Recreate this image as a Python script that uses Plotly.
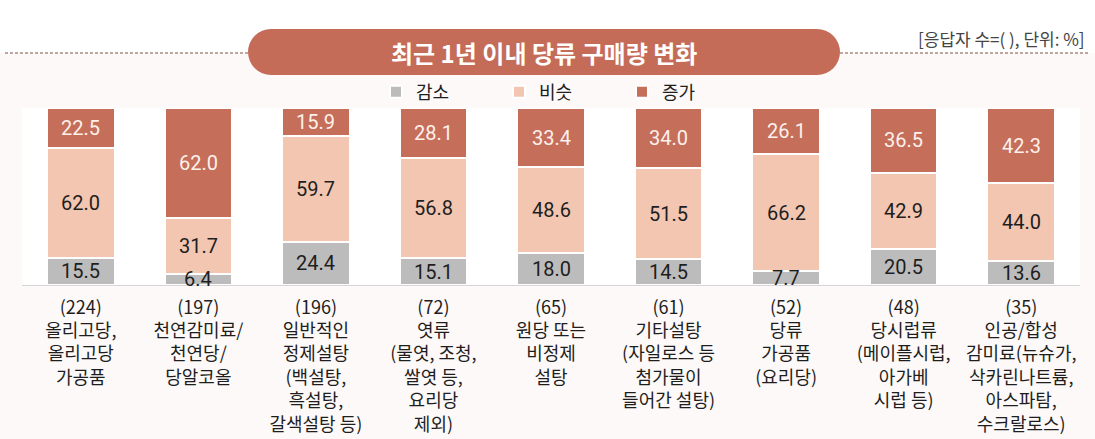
import plotly.graph_objects as go

categories = [
    "(224)<br>올리고당,<br>올리고당<br>가공품",
    "(197)<br>천연감미료/<br>천연당/<br>당알코올",
    "(196)<br>일반적인<br>정제설탕<br>(백설탕,<br>흑설탕,<br>갈색설탕 등)",
    "(72)<br>엿류<br>(물엿, 조청,<br>쌀엿 등,<br>요리당<br>제외)",
    "(65)<br>원당 또는<br>비정제<br>설탕",
    "(61)<br>기타설탕<br>(자일로스 등<br>첨가물이<br>들어간 설탕)",
    "(52)<br>당류<br>가공품<br>(요리당)",
    "(48)<br>당시럽류<br>(메이플시럽,<br>아가베<br>시럽 등)",
    "(35)<br>인공/합성<br>감미료(뉴슈가,<br>삭카린나트륨,<br>아스파탐,<br>수크랄로스)",
]
decrease = [15.5, 6.4, 24.4, 15.1, 18.0, 14.5, 7.7, 20.5, 13.6]
similar = [62.0, 31.7, 59.7, 56.8, 48.6, 51.5, 66.2, 42.9, 44.0]
increase = [22.5, 62.0, 15.9, 28.1, 33.4, 34.0, 26.1, 36.5, 42.3]
series_names = ["감소", "비슷", "증가"]
title_text = "최근 1년 이내 당류 구매량 변화"
note_text = "[응답자 수=( ), 단위: %]"

C_DEC = "#bdbcbc"
C_SIM = "#f2c6b1"
C_INC = "#c56e5a"
PILL = "#c46c58"
KFONT = "Noto Sans CJK KR"
NFONT = "Roboto"

W, H = 1095, 439
ML, MR, MT, MB = 22, 15, 108, 154
PW = W - ML - MR
PH = H - MT - MB


def px(x):
    return (x - ML) / PW


def py(y):
    return (H - MB - y) / PH


fig = go.Figure()
series = [
    (series_names[0], decrease, C_DEC, "#1e1e1e"),
    (series_names[1], similar, C_SIM, "#1e1e1e"),
    (series_names[2], increase, C_INC, "#fdf1ec"),
]
annotations = []
base = [0.0] * len(categories)
for name, vals, col, tcol in series:
    fig.add_trace(go.Bar(
        x=categories, y=vals, name=name,
        marker=dict(color=col, line=dict(color="white", width=2)),
        hoverinfo="skip",
    ))
    for i, v in enumerate(vals):
        annotations.append(dict(
            x=categories[i], y=base[i] + v / 2, xref="x", yref="y",
            text=f"{v:.1f}", showarrow=False, xanchor="center", yanchor="middle",
            font=dict(family=NFONT, size=20, color=tcol),
        ))
        base[i] += v

shapes = []
# white band above dashed line
shapes.append(dict(type="rect", xref="paper", yref="paper", x0=px(0), x1=px(W), y0=py(0), y1=py(53),
                   fillcolor="white", line=dict(width=0), layer="below"))
# dashed lines
shapes.append(dict(type="line", xref="paper", yref="paper", x0=px(5), x1=px(260), y0=py(53), y1=py(53),
                   line=dict(color="#a98a80", width=1.5, dash="3px,2px")))
shapes.append(dict(type="line", xref="paper", yref="paper", x0=px(820), x1=px(1088), y0=py(53), y1=py(53),
                   line=dict(color="#a98a80", width=1.5, dash="3px,2px")))
# pill
r = 23
x_l, x_r, y_t, y_b = 248, 840, 29, 75
shapes.append(dict(type="rect", xref="paper", yref="paper", x0=px(x_l + r), x1=px(x_r - r), y0=py(y_b), y1=py(y_t),
                   fillcolor=PILL, line=dict(width=0)))
shapes.append(dict(type="circle", xref="paper", yref="paper", x0=px(x_l), x1=px(x_l + 2 * r), y0=py(y_b), y1=py(y_t),
                   fillcolor=PILL, line=dict(width=0)))
shapes.append(dict(type="circle", xref="paper", yref="paper", x0=px(x_r - 2 * r), x1=px(x_r), y0=py(y_b), y1=py(y_t),
                   fillcolor=PILL, line=dict(width=0)))

annotations += [
    dict(text="<b>" + title_text + "</b>", xref="paper", yref="paper", x=px(544), y=py(52),
         xanchor="center", yanchor="middle", showarrow=False,
         font=dict(family=KFONT, size=24, color="white")),
    dict(text=note_text, xref="paper", yref="paper", x=px(1087), y=py(38),
         xanchor="right", yanchor="middle", showarrow=False,
         font=dict(family=KFONT, size=17, color="#444444")),
]

fig.update_layout(
    width=W, height=H,
    margin=dict(l=ML, r=MR, t=MT, b=MB, pad=0),
    barmode="stack", bargap=0.426,
    paper_bgcolor="#fdf9f8", plot_bgcolor="white",
    shapes=shapes, annotations=annotations,
    showlegend=True,
    legend=dict(orientation="h", traceorder="normal", x=px(376), xanchor="left", y=py(92), yanchor="middle",
                entrywidth=78, entrywidthmode="pixels", bgcolor="rgba(0,0,0,0)",
                font=dict(family=KFONT, size=18, color="#1e1e1e"), itemclick=False),
    xaxis=dict(showline=True, linecolor="#d6d6d6", linewidth=1, ticks="", showgrid=False,
               ticklabelstandoff=6, automargin=False,
               tickfont=dict(family=KFONT, size=18, color="#1e1e1e"), fixedrange=True),
    yaxis=dict(range=[0, 100], visible=False, showgrid=False, fixedrange=True, automargin=False),
)

fig.write_html("out.html")
